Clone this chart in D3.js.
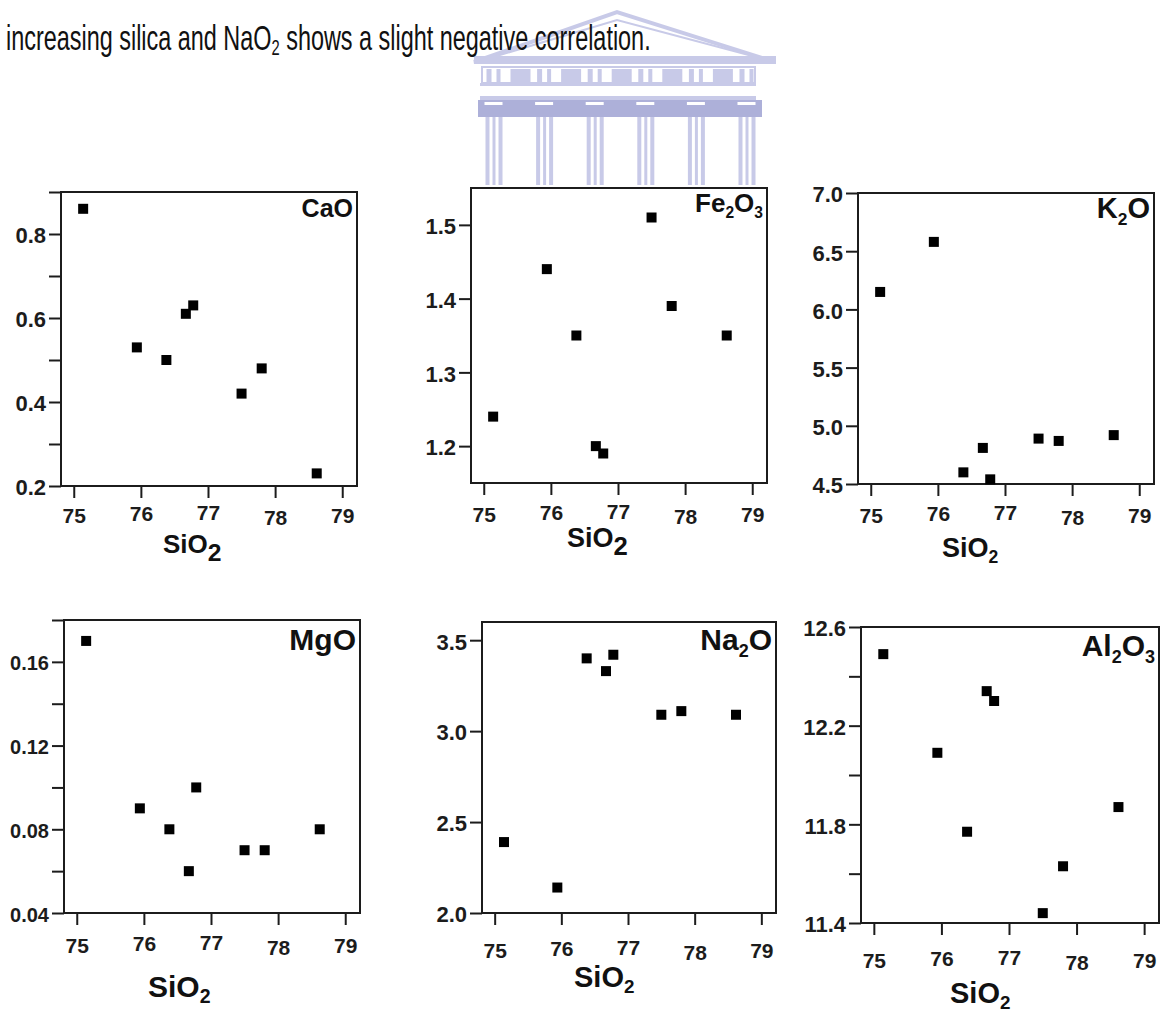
<!DOCTYPE html>
<html>
<head>
<meta charset="utf-8">
<script src="https://cdn.jsdelivr.net/npm/d3@7"></script>
<style>
  body { margin: 0; background: #fff; }
  svg { display: block; }
</style>
</head>
<body>
<div id="chart"></div>
<script>
// SiO2 is shared by all six plots (eight samples)
const sio2  = [75.14, 75.94, 76.38, 76.67, 76.78, 77.50, 77.80, 78.62];
const cao   = [0.86, 0.53, 0.50, 0.61, 0.63, 0.42, 0.48, 0.23];
const fe2o3 = [1.24, 1.44, 1.35, 1.20, 1.19, 1.51, 1.39, 1.35];
const k2o   = [6.15, 6.58, 4.60, 4.81, 4.54, 4.89, 4.87, 4.92];
const mgo   = [0.17, 0.09, 0.08, 0.06, 0.10, 0.07, 0.07, 0.08];
const na2o  = [2.39, 2.14, 3.40, 3.33, 3.42, 3.09, 3.11, 3.09];
const al2o3 = [12.49, 12.09, 11.77, 12.34, 12.30, 11.44, 11.63, 11.87];

// tick labels
const xTicks = [75, 76, 77, 78, 79];
const caoTicks = [0.2, 0.4, 0.6, 0.8];
const caoMinor = [0.3, 0.5, 0.7, 0.9];
const fe2o3Ticks = [1.2, 1.3, 1.4, 1.5];
const k2oTicks = [4.5, 5.0, 5.5, 6.0, 6.5, 7.0];
const mgoTicks = [0.04, 0.08, 0.12, 0.16];
const mgoMinor = [0.06, 0.10, 0.14, 0.18];
const na2oTicks = [2.0, 2.5, 3.0, 3.5];
const al2o3Ticks = [11.4, 11.8, 12.2, 12.6];
const al2o3Minor = [11.6, 12.0, 12.4];

const caption = ["increasing silica and NaO", "2", " shows a slight negative correlation."];

const W = 1173, H = 1012;
const ink = "#1c1c1c";
const font = "'Liberation Sans', Arial, Helvetica, sans-serif";
const xDomain = [74.81, 79.22];

const svg = d3.select("#chart").append("svg")
    .attr("width", W)
    .attr("height", H)
    .style("background", "#fff");

// faint university crest behind the text
drawCrest();

// caption line (narrow font look -> squeeze horizontally)
const cap = svg.append("text")
    .attr("font-family", font)
    .attr("font-size", 35)
    .attr("fill", "#111");
cap.append("tspan").text(caption[0]);
cap.append("tspan").attr("font-size", 22).attr("dy", 5).text(caption[1]);
cap.append("tspan").attr("dy", -5).text(caption[2]);
const capLen = cap.node().getComputedTextLength();
cap.attr("transform", `translate(6,50) scale(${645 / capLen},1)`);

// panel layout: box = [left, top, right, bottom]
const panels = [
    { name: "CaO", values: cao, domain: [0.2, 0.9], ticks: caoTicks, minor: caoMinor, fmt: ".1f",
      box: [61, 192, 357, 486], titleSize: 25, titleBase: 223, tickSize: 22, xPad: 10,
      lab: [102, 553], labSize: 26, bigSub: true },
    { name: "Fe_2O_3", values: fe2o3, domain: [1.15, 1.55], ticks: fe2o3Ticks, minor: null, fmt: ".1f",
      box: [471, 188, 767, 483], titleSize: 26, titleBase: 218, tickSize: 22, xPad: 12,
      lab: [96, 547], labSize: 27, bigSub: true },
    { name: "K_2O", values: k2o, domain: [4.5, 7.0], ticks: k2oTicks, minor: null, fmt: ".1f",
      box: [858, 193, 1154, 484], titleSize: 29, titleBase: 225, tickSize: 22, xPad: 12,
      lab: [84, 557], labSize: 27, bigSub: false },
    { name: "MgO", values: mgo, domain: [0.04, 0.18], ticks: mgoTicks, minor: mgoMinor, fmt: ".2f",
      box: [64, 620, 360, 913], titleSize: 30, titleBase: 657, tickSize: 20, xPad: 13,
      lab: [84, 997], labSize: 30, bigSub: false },
    { name: "Na_2O", values: na2o, domain: [2.0, 3.6], ticks: na2oTicks, minor: null, fmt: ".1f",
      box: [482, 622, 776, 913], titleSize: 30, titleBase: 657, tickSize: 22, xPad: 18,
      lab: [92, 987], labSize: 29, bigSub: false },
    { name: "Al_2O_3", values: al2o3, domain: [11.4, 12.6], ticks: al2o3Ticks, minor: al2o3Minor, fmt: ".1f",
      box: [861, 627, 1159, 923], titleSize: 30, titleBase: 663, tickSize: 22, xPad: 18,
      lab: [89, 1003], labSize: 29, bigSub: false }
];

// small vertical stagger of x labels, as in the scanned figure
const xLabelNudge = [0, -2, -3, 2, 0];

panels.forEach(drawPanel);

function drawPanel(p) {
    const [x0, y0, x1, y1] = p.box;
    const x = d3.scaleLinear().domain(xDomain).range([x0, x1]);
    const y = d3.scaleLinear().domain(p.domain).range([y1, y0]);
    const g = svg.append("g")
        .attr("font-family", font)
        .attr("font-weight", "bold");

    // y axis: labelled ticks + unlabelled minor ticks
    g.append("g")
        .attr("transform", `translate(${x0},0)`)
        .call(d3.axisLeft(y).tickValues(p.ticks).tickSize(12).tickPadding(3).tickFormat(d3.format(p.fmt)))
        .call(a => a.selectAll("text").attr("font-size", p.tickSize).attr("dy", "0.4em"));
    if (p.minor) {
        g.append("g")
            .attr("transform", `translate(${x0},0)`)
            .call(d3.axisLeft(y).tickValues(p.minor).tickSize(12).tickFormat(""));
    }

    // x axis
    g.append("g")
        .attr("transform", `translate(0,${y1})`)
        .call(d3.axisBottom(x).tickValues(xTicks).tickSize(12).tickPadding(p.xPad).tickFormat(d3.format("d")))
        .call(a => a.selectAll("text")
            .attr("font-size", 21)
            .attr("transform", (d, i) => `translate(0,${xLabelNudge[i]})`));

    g.selectAll(".domain").remove();
    g.selectAll(".tick line").attr("stroke", ink).attr("stroke-width", 2);
    g.selectAll(".tick text").attr("fill", ink).attr("font-family", font);

    // frame
    g.append("rect")
        .attr("x", x0).attr("y", y0)
        .attr("width", x1 - x0).attr("height", y1 - y0)
        .attr("fill", "none")
        .attr("stroke", ink)
        .attr("stroke-width", 2);

    // points
    const pts = sio2.map((s, i) => ({ s: s, v: p.values[i] }));
    g.selectAll("rect.pt").data(pts).join("rect")
        .attr("class", "pt")
        .attr("x", d => x(d.s) - 5)
        .attr("y", d => y(d.v) - 5)
        .attr("width", 10)
        .attr("height", 10)
        .attr("fill", "#000");

    // oxide name, top right
    const t = g.append("text")
        .attr("x", x1 - 4)
        .attr("y", p.titleBase)
        .attr("text-anchor", "end")
        .attr("font-size", p.titleSize)
        .attr("fill", "#111");
    p.name.split(/(_\d)/).filter(s => s.length).forEach(s => {
        if (s[0] === "_") {
            t.append("tspan").attr("font-size", p.titleSize * 0.6).attr("dy", p.titleSize * 0.25).text(s.slice(1));
        } else {
            t.append("tspan").attr("dy", t.selectAll("tspan").size() ? -p.titleSize * 0.25 : 0).text(s);
        }
    });

    // x axis title
    const lab = g.append("text")
        .attr("x", x0 + p.lab[0])
        .attr("y", p.lab[1])
        .attr("font-size", p.labSize)
        .attr("fill", "#111");
    lab.append("tspan").text("SiO");
    if (p.bigSub) {
        lab.append("tspan").attr("font-size", p.labSize * 0.95).attr("dy", 8).text("2");
    } else {
        lab.append("tspan").attr("font-size", p.labSize * 0.65).attr("dy", 6).text("2");
    }
}

function drawCrest() {
    const lav = "#c6c8e7", lavDark = "#a9acd8";
    const c = svg.append("g").attr("opacity", 0.95);
    // pediment
    c.append("polygon")
        .attr("points", "474,62 617,12 775,62")
        .attr("fill", "none").attr("stroke", lav).attr("stroke-width", 4);
    c.append("polygon")
        .attr("points", "490,58 617,20 760,58")
        .attr("fill", "none").attr("stroke", lav).attr("stroke-width", 2);
    c.append("rect").attr("x", 474).attr("y", 56).attr("width", 302).attr("height", 8).attr("fill", lav);
    // frieze
    c.append("rect").attr("x", 482).attr("y", 67).attr("width", 273).attr("height", 16)
        .attr("fill", "none").attr("stroke", lav).attr("stroke-width", 2);
    const colX = d3.range(6).map(i => 493.5 + i * 50.6);
    colX.forEach((cx, i) => {
        c.append("rect").attr("x", cx - 7).attr("y", 69).attr("width", 5).attr("height", 13).attr("fill", lav);
        c.append("rect").attr("x", cx + 3).attr("y", 69).attr("width", 4).attr("height", 13).attr("fill", lav);
        if (i < 5) {
            c.append("rect").attr("x", cx + 17).attr("y", 69).attr("width", 20).attr("height", 13).attr("fill", lav);
        }
    });
    c.append("rect").attr("x", 480).attr("y", 83).attr("width", 276).attr("height", 3).attr("fill", lav);
    c.append("rect").attr("x", 480).attr("y", 96).attr("width", 276).attr("height", 4).attr("fill", lav);
    // capital band
    c.append("rect").attr("x", 478).attr("y", 100).attr("width", 284).attr("height", 17).attr("fill", lavDark);
    // columns
    colX.forEach(cx => {
        c.append("rect").attr("x", cx - 9).attr("y", 102).attr("width", 18).attr("height", 3).attr("fill", "#fff");
        c.append("rect").attr("x", cx - 8).attr("y", 117).attr("width", 17).attr("height", 68).attr("fill", lav);
        c.append("rect").attr("x", cx - 4).attr("y", 117).attr("width", 3).attr("height", 68).attr("fill", "#fff");
        c.append("rect").attr("x", cx + 2).attr("y", 117).attr("width", 3).attr("height", 68).attr("fill", "#fff");
    });
}
</script>
</body>
</html>
